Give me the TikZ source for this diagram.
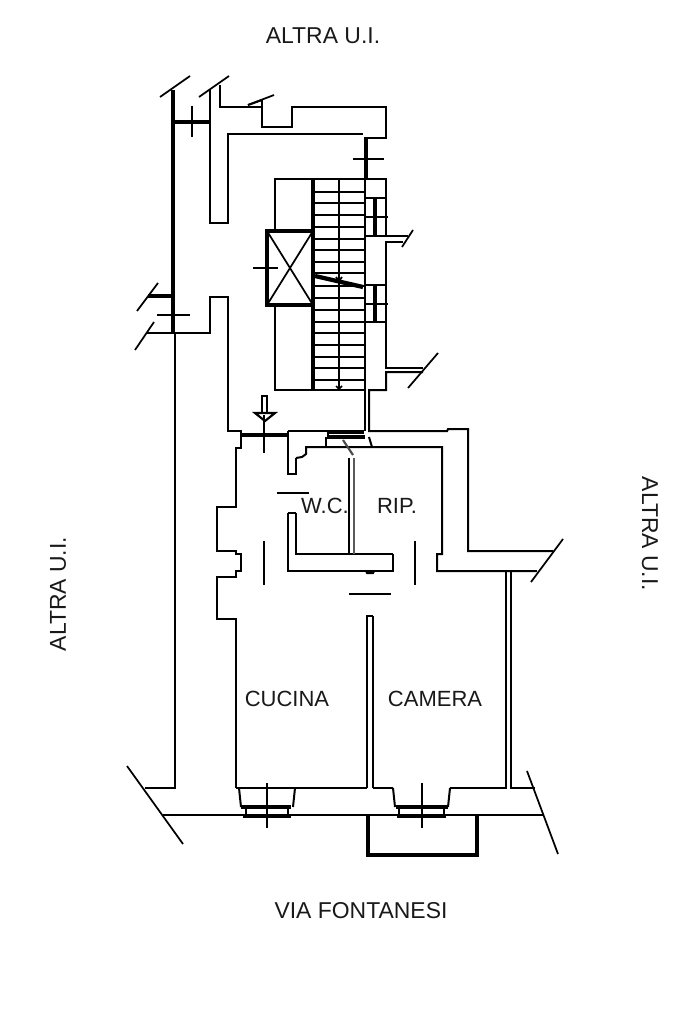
\documentclass[tikz,border=0pt]{standalone}
\usepackage{fontspec}
\setmainfont{Liberation Sans}
\tikzset{
 thin wall/.style={line width=1.5pt,line join=miter,black},
 thick wall/.style={line width=3.2pt,black},
 mid wall/.style={line width=2.2pt,black},
 tick/.style={line width=1.3pt,black},
 grey wall/.style={line width=1.1pt,black!65},
 lab/.style={font=\fontsize{16.5pt}{18pt}\selectfont,text=black!90,inner sep=0pt},
 outer lab/.style={font=\fontsize{17.2pt}{19pt}\selectfont,text=black!90,inner sep=0pt}
}
\begin{document}
\begin{tikzpicture}[x=0.75pt,y=-0.75pt]
\useasboundingbox[fill=white] (0,0) rectangle (683,1023);
% upper left block
\draw[thick wall] (173,90) -- (173,333);
\draw[thick wall] (173,122) -- (210,122);
\draw[thick wall] (148,296) -- (172,296);
\draw[thin wall] (175,333) -- (175,788) -- (145,788);
\draw[thin wall] (210,90) -- (210,223) -- (228,223) -- (228,134) -- (363,134);
\draw[thick wall] (366,137) -- (366,179);
\draw[thin wall] (220,85) -- (220,107) -- (262,107);
\draw[thin wall] (262,100) -- (262,127) -- (292,127) -- (292,107) -- (386,107) -- (386,138) -- (365,138);
\draw[thin wall] (248,105) -- (262,100);
\draw[tick] (160,97) -- (190,76);
\draw[tick] (199,97) -- (229,76);
\draw[tick] (248,105) -- (274,95);
\draw[tick] (192,106) -- (192,137);
\draw[tick] (353,159) -- (384,159);
\draw[tick] (137,311) -- (158,283);
\draw[tick] (157,315) -- (190,315);
\draw[tick] (135,350) -- (154,322);
\draw[thin wall] (147,333) -- (210,333) -- (210,297) -- (228,297) -- (228,431) -- (241,431) -- (241,448) -- (236,448) -- (236,507) -- (217,507) -- (217,551) -- (236,551) -- (236,554) -- (241,554) -- (241,571) -- (236,571) -- (236,577) -- (217,577) -- (217,619) -- (236,619) -- (236,788);
% stairs
\draw[thin wall] (275,231) -- (275,179) -- (387,179);
\draw[thin wall] (275,305) -- (275,390) -- (313,390);
\draw[thick wall] (313,179) -- (313,390);
\draw[thin wall] (365,179) -- (365,431);
\draw[thin wall] (313,390) -- (365,390);
\draw[thin wall] (339,179) -- (339,390);
\foreach \ty in {192,203,215,227,239,250,262,273,286,298,310,322,333,345,357,368,380}
  \draw[thin wall] (315,\ty) -- (365,\ty);
\draw[line width=3pt] (267,231) rectangle (313,305);
\draw[tick] (267,231) -- (313,305) (313,231) -- (267,305);
\draw[tick] (253,268) -- (278,268);
\draw[line width=3.2pt] (315,276) -- (363,287);
\draw[tick] (336,277) -- (339,281) -- (342,277);
\draw[tick] (336,386) -- (339,389) -- (342,386);
% right of stairs
\draw[thin wall] (365,198) -- (386,198);
\draw[thick wall] (375,198) -- (375,236);
\draw[thin wall] (365,217) -- (388,217);
\draw[thin wall] (386,179) -- (386,236);
\draw[thin wall] (365,236) -- (408,236);
\draw[thin wall] (403,242) -- (386,242) -- (386,285) -- (365,285);
\draw[tick] (402,247) -- (413,230);
\draw[thick wall] (375,285) -- (375,322);
\draw[thin wall] (365,304) -- (388,304);
\draw[thin wall] (386,285) -- (386,368) -- (423,368);
\draw[thin wall] (365,322) -- (386,322);
\draw[thin wall] (423,372) -- (386,372) -- (386,390) -- (369,390) -- (369,431) -- (447,431) -- (448,429) -- (468,429) -- (468,551) -- (553,551);
\draw[tick] (408,388) -- (438,353);
\draw[tick] (531,582) -- (563,539);
% landing
\draw[thick wall] (241,435) -- (288,435);
\draw[tick] (264,415) -- (264,453);
\draw[line width=1.3pt] (262,413) -- (262,396) -- (267,396) -- (267,413);
\draw[line width=1.6pt] (255,413) -- (275,413) -- (265,421) -- cycle;
\draw[thin wall] (288,431) -- (364,431);
\draw[thin wall] (296,458) -- (296,474) -- (288,474) -- (288,431);
\draw[thin wall] (296,458) -- (302,457) -- (306,454) -- (306,447) -- (442,447) -- (442,554) -- (437,554) -- (437,571) -- (537,571);
\draw[thin wall] (328,437) -- (328,433) -- (364,433);
\draw[mid wall,line width=2.8pt] (327,437) -- (365,437);
\draw[thin wall] (326,437) -- (326,447);
\draw[thin wall] (369,437) -- (372,447);
\draw[line width=1.6pt,black!70] (343,440) -- (353,455);
% wc walls
\draw[thin wall] (288,513) -- (296,513);
\draw[mid wall] (288,513) -- (288,571) -- (393,571) -- (393,554);
\draw[mid wall] (296,513) -- (296,554) -- (393,554);
\draw[thin wall] (366,571) -- (367,573) -- (373,573) -- (374,571);
\draw[thin wall] (349,458) -- (349,554);
\draw[grey wall] (354,458) -- (354,554);
\draw[tick] (277,493) -- (309,493);
\draw[tick] (264,541) -- (264,585);
\draw[tick] (415,541) -- (415,585);
\draw[tick] (349,594) -- (391,594);
% lower rooms
\draw[thin wall] (367,788) -- (367,616) -- (373,616);
\draw[mid wall] (373,616) -- (373,788);
\draw[thin wall] (506,571) -- (506,788) -- (450,788);
\draw[mid wall] (511,571) -- (511,788) -- (535,788);
\draw[thin wall] (236,788) -- (367,788);
\draw[thin wall] (373,788) -- (393,788);
\draw[tick] (127,766) -- (183,844);
\draw[tick] (527,771) -- (558,854);
\draw[thin wall] (163,815) -- (543,815);
% windows
\draw[thin wall] (239,788) -- (241,807);
\draw[thin wall] (295,788) -- (293,807);
\draw[thick wall] (241,807) -- (291,807);
\draw[thin wall] (246,809) -- (246,816) (288,809) -- (288,816);
\draw[thin wall] (243,817) -- (291,817);
\draw[tick] (267,783) -- (267,828);
\draw[thin wall] (393,788) -- (395,807);
\draw[thin wall] (450,788) -- (448,807);
\draw[thick wall] (396,807) -- (448,807);
\draw[thin wall] (399,809) -- (399,816) (444,809) -- (444,816);
\draw[thin wall] (397,817) -- (446,817);
\draw[tick] (422,783) -- (422,828);
% balcony
\draw[line width=3pt] (368,815) -- (368,855) -- (477,855) -- (477,815);
% labels
\node[outer lab] (top) at (323,36) {ALTRA U.I.};
\node[outer lab,rotate=90] (left) at (58,594) {ALTRA U.I.};
\node[outer lab,rotate=-90] (right) at (650,534) {ALTRA U.I.};
\node[lab] (wc) at (325,506) {W.C.};
\node[lab] (rip) at (397,506) {RIP.};
\node[lab] (cucina) at (287,699) {CUCINA};
\node[lab] (camera) at (435,699) {CAMERA};
\node[outer lab] (via) at (361,911) {VIA FONTANESI};
\end{tikzpicture}
\end{document}
